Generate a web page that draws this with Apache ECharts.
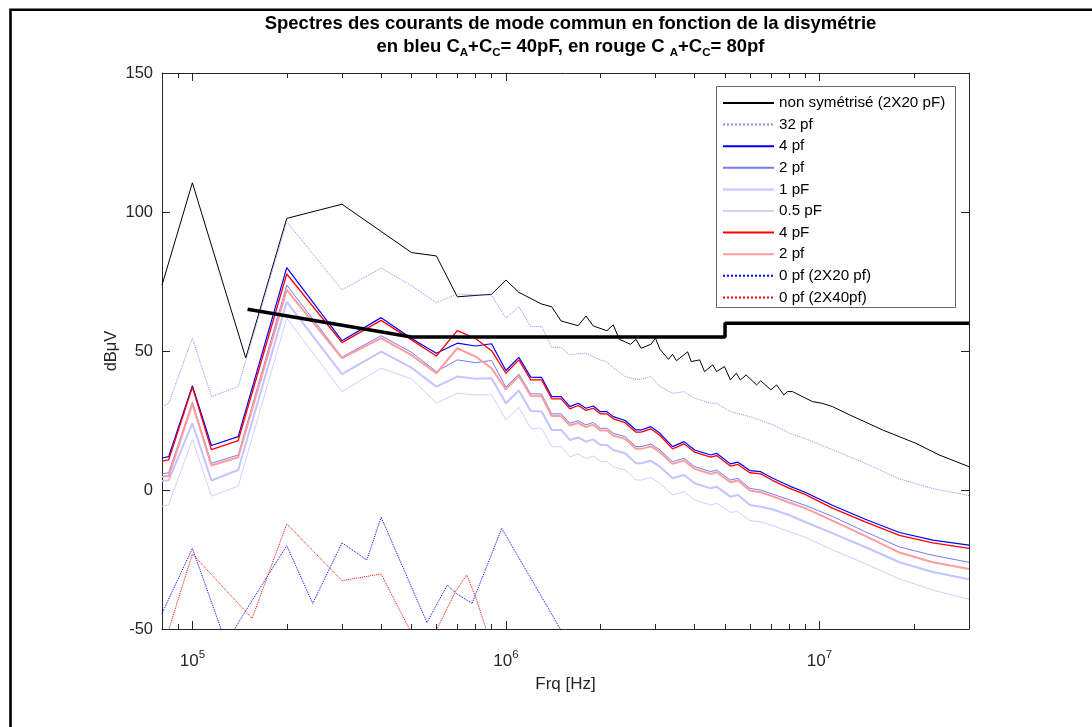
<!DOCTYPE html>
<html>
<head>
<meta charset="utf-8">
<script src="https://cdn.jsdelivr.net/npm/echarts@6/dist/echarts.min.js"></script>
<style>
  html, body { margin: 0; padding: 0; background: #fff; }
  #chart { width: 1092px; height: 727px; }
</style>
</head>
<body>
<div id="chart"></div>
<script>
// frequencies (Hz) shared by the coloured curves
var fC = [8e4, 8.4e4, 1e5, 1.15e5, 1.4e5, 2e5, 3e5, 4e5, 5e5, 6e5,
    7e5, 8e5, 9e5, 1e6, 1.1e6, 1.2e6, 1.3e6, 1.4e6, 1.5e6, 1.6e6,
    1.7e6, 1.8e6, 1.9e6, 2e6, 2.1e6, 2.2e6, 2.4e6, 2.6e6, 2.7e6, 2.9e6,
    3.1e6, 3.4e6, 3.7e6, 4e6, 4.5e6, 4.7e6, 5.2e6, 5.5e6, 6e6, 6.5e6,
    7.1e6, 8e6, 9e6, 1.1e7, 1.4e7, 1.8e7, 2.3e7, 3e7];

var v32pf = [30, 31.2, 54.6, 33.6, 37.2, 96.5, 72, 79.8, 73.5, 67.4,
    70.5, 70.2, 70.1, 61.8, 65.9, 58.8, 58.8, 51.3, 51.3, 48.6,
    49, 49.2, 48, 46.8, 46, 44, 40.8, 39.8, 39.8, 40.8,
    37.2, 34.8, 35.4, 33, 31.2, 31.2, 28.2, 27.5, 26.4, 25,
    23.5, 20.5, 18.5, 14.5, 9.6, 4, 0.5, -2];
var vBleu4 = [11.5, 12, 37.5, 16, 19.2, 80, 53.7, 62, 54.5, 49.2,
    52.8, 51.8, 52.6, 43, 47.7, 40.6, 40.5, 33.6, 33.6, 30,
    31.2, 29.4, 30.2, 28.2, 28.2, 26.4, 25, 21.6, 21.6, 22.8,
    20.4, 15.6, 17.4, 14.4, 12.6, 13.2, 9.4, 10, 7, 6.6,
    4.2, 1.5, -0.8, -5.5, -10.5, -15.3, -18, -19.8];
var vBleu2 = [5.8, 6.2, 31.5, 9.6, 12.6, 73.7, 47.8, 55.5, 49.5, 42.6,
    46.8, 45.8, 46.6, 37, 41.7, 34.6, 34.5, 27.4, 27.4, 24,
    24.9, 23.4, 24.3, 22.2, 22.2, 20.4, 19.2, 15.6, 15.6, 16.5,
    14.4, 10.2, 11.4, 8.4, 6.6, 7.2, 3.6, 4.2, 0.6, 0,
    -1.5, -3.5, -5.5, -9.5, -15, -20.5, -23.5, -26];
var vBleu1 = [3.2, 3.5, 24, 3.4, 7.2, 67.7, 41.7, 49.8, 44, 37.2,
    40.8, 40, 40.2, 31.2, 35.8, 28.4, 28.2, 21.6, 21.6, 18,
    18.9, 17.4, 18.2, 16.2, 16.2, 14.4, 13.2, 9.6, 9.6, 10.5,
    8.4, 4.2, 5.4, 2.4, 0.6, 1.2, -2.4, -1.8, -5.4, -6,
    -7, -9, -11.5, -15.5, -20.5, -26, -29.5, -32.1];
var vBleu05 = [-5.8, -5.4, 18.2, -2.2, 1.4, 61.8, 35.4, 43.8, 40, 31.2,
    34.8, 34.2, 34.3, 25.2, 29.7, 22.2, 22.2, 15.6, 15.6, 12,
    12.9, 11.4, 12.2, 10.2, 10.2, 8.4, 7.2, 3.6, 3.6, 4.5,
    2.4, -1.8, -0.6, -3.6, -5.4, -4.8, -8, -7.8, -11, -11.5,
    -12.8, -15, -17, -21.5, -26.5, -32, -36, -39.3];
var vRouge4 = [10.4, 10.8, 37, 14.5, 17.8, 77.7, 53, 61, 54, 48.2,
    57.3, 54.5, 50.1, 42, 46.8, 39.6, 39.6, 32.8, 32.8, 29.2,
    30.4, 28.6, 29.4, 27.4, 27.4, 25.6, 24.2, 20.8, 20.8, 22,
    19.6, 14.8, 16.6, 13.6, 11.8, 12.4, 8.6, 9.2, 6.2, 5.8,
    3.4, 0.7, -1.6, -6.5, -11.5, -16.3, -19, -21];
var vRouge2 = [4.8, 5, 31, 8.8, 11.8, 72, 47.4, 54.6, 48.5, 42,
    51, 48, 43.8, 36.2, 41, 33.8, 33.7, 26.6, 26.6, 23.2,
    24.1, 22.6, 23.5, 21.4, 21.4, 19.6, 18.4, 14.8, 14.8, 15.7,
    13.6, 9.4, 10.6, 7.6, 5.8, 6.4, 2.8, 3.4, -0.2, -0.8,
    -2.3, -4.5, -6.5, -11, -16.5, -22.5, -26, -28.4];

// non symétrisé
var fNonSym = [8e4, 1e5, 1.48e5, 2e5, 3e5, 4e5, 5e5, 6e5, 7e5, 9e5,
    1e6, 1.1e6, 1.3e6, 1.4e6, 1.5e6, 1.7e6, 1.8e6, 1.9e6, 2.1e6, 2.2e6,
    2.3e6, 2.5e6, 2.6e6, 2.7e6, 2.9e6, 3e6, 3.1e6, 3.3e6, 3.4e6, 3.5e6,
    3.8e6, 3.9e6, 4.15e6, 4.3e6, 4.57e6, 4.7e6, 4.98e6, 5.2e6, 5.43e6, 5.6e6,
    5.84e6, 6.3e6, 6.5e6, 7e6, 7.3e6, 7.7e6, 7.9e6, 8.2e6, 9.5e6, 1.02e7,
    1.1e7, 1.25e7, 1.59e7, 2.03e7, 2.41e7, 3e7];
var vNonSym = [73.7, 110.5, 47.5, 97.7, 102.8, 93, 85.4, 84.2, 69.5, 70.4,
    75.5, 71.1, 66.9, 65.9, 60.8, 59.1, 62.6, 59, 57.3, 59.4,
    54.2, 52.4, 54.2, 51, 52.4, 54.6, 50.6, 47, 48.8, 46.5,
    49.7, 46.2, 46.8, 42.6, 45, 42.6, 44.4, 39.6, 42, 39.6,
    41.4, 37.8, 39.3, 36, 37.8, 34.2, 35.4, 35.4, 31.8, 31.2,
    30, 27, 21.6, 16.8, 12.6, 8.4];

// 0 pf
var f0pf20 = [8e4, 1e5, 1.28e5, 1.53e5, 2e5, 2.42e5, 3e5, 3.6e5, 4e5, 5.6e5,
    6.5e5, 7e5, 7.8e5, 9.7e5, 1.5e6, 1.6e6];
var v0pf20 = [-44.4, -21, -55, -40.8, -20, -40.8, -19, -25.2, -9.8, -47.7,
    -34.2, -37.5, -40.8, -13.8, -50.5, -55];
var f0pf40 = [8e4, 1e5, 1.55e5, 2e5, 3e5, 4e5, 5e5, 5.5e5, 6e5, 6.9e5,
    7.5e5, 8e5, 9e5];
var v0pf40 = [-58, -23, -46.2, -12.2, -32.6, -30.2, -51.5, -56, -50.5, -36.6,
    -30.6, -38.4, -56];

// gabarit (trait noir épais)
var fLimite = [1.5e5, 5e5, 5e6, 5e6, 3e7];
var vLimite = [65, 55, 55, 60, 60];

var xMajor = [1e5, 1e6, 1e7];
var xMinor = [9e4, 2e5, 3e5, 4e5, 5e5, 6e5, 7e5, 8e5, 9e5,
    2e6, 3e6, 4e6, 5e6, 6e6, 7e6, 8e6, 9e6, 2e7, 3e7];

function pairs(f, v) {
    var out = [];
    for (var i = 0; i < f.length; i++) {
        out.push([f[i], v[i]]);
    }
    return out;
}

var FONT = 'Liberation Sans, Arial, Helvetica, sans-serif';
var AX = '#262626';

function xAxisDef(pos, ticks, len, withLine, withLabel) {
    return {
        type: 'log',
        logBase: 10,
        min: 8e4,
        max: 3e7,
        position: pos,
        gridIndex: 0,
        axisLine: { show: withLine, onZero: false, lineStyle: { color: AX, width: 1 } },
        axisTick: { show: true, inside: true, length: len, customValues: ticks,
            lineStyle: { color: AX, width: 1 } },
        axisLabel: withLabel ? {
            show: true,
            customValues: xMajor,
            margin: 20,
            fontFamily: FONT,
            color: AX,
            formatter: function (val) {
                return '{b|10}{p|' + Math.round(Math.log10(val)) + '}';
            },
            rich: {
                b: { fontSize: 17, fontFamily: FONT, color: AX },
                p: { fontSize: 11.5, fontFamily: FONT, color: AX, padding: [0, 0, 13, 0] }
            }
        } : { show: false },
        splitLine: { show: false },
        minorTick: { show: false }
    };
}

var xAxes = [
    xAxisDef('bottom', xMajor, 8, true, true),
    xAxisDef('bottom', xMinor, 5, false, false),
    xAxisDef('top', xMajor, 8, true, false),
    xAxisDef('top', xMinor, 5, false, false)
];
xAxes[0].name = 'Frq [Hz]';
xAxes[0].nameLocation = 'middle';
xAxes[0].nameGap = 47;
xAxes[0].nameTextStyle = { fontSize: 17, fontFamily: FONT, color: AX };

var myChart = echarts.init(document.getElementById('chart'), null, { renderer: 'canvas' });

myChart.setOption({
    animation: false,
    backgroundColor: '#fff',
    title: {
        left: 565.5,
        top: 7,
        textAlign: 'center',
        text: '{b|Spectres des courants de mode commun en fonction de la disymétrie}\n' +
            '{b|en bleu C}{s|A}{b|+C}{s|C}{b|= 40pF, en rouge C }{s|A}{b|+C}{s|C}{b|= 80pf}',
        textStyle: {
            rich: {
                b: { fontSize: 18.5, fontWeight: 'bold', fontFamily: FONT, color: '#000', lineHeight: 23 },
                s: { fontSize: 11.5, fontWeight: 'bold', fontFamily: FONT, color: '#000', padding: [12, 0, 0, 0] }
            }
        }
    },
    grid: { left: 162, top: 73, width: 807, height: 556, containLabel: false },
    legend: {
        orient: 'vertical',
        left: 722,
        top: 95.5,
        padding: 0,
        itemWidth: 51,
        itemHeight: 14,
        itemGap: 6.6,
        selectedMode: false,
        z: 5,
        itemStyle: { opacity: 0 },
        textStyle: { fontSize: 15.2, fontFamily: FONT, color: '#000', lineHeight: 14 },
        data: ['non symétrisé (2X20 pF)', '32 pf', '4 pf', '2 pf', '1 pF', '0.5 pF',
            '4 pF', '2 pf ', '0 pf (2X20 pf)', '0 pf (2X40pf)']
    },
    xAxis: xAxes,
    yAxis: [{
        type: 'value',
        min: -50,
        max: 150,
        interval: 50,
        position: 'left',
        name: 'dBμV',
        nameLocation: 'middle',
        nameGap: 42,
        nameMoveOverlap: false,
        nameRotate: 90,
        nameTextStyle: { fontSize: 16.5, fontFamily: FONT, color: AX },
        axisLine: { show: true, onZero: false, lineStyle: { color: AX, width: 1 } },
        axisTick: { show: true, inside: true, length: 8, lineStyle: { color: AX } },
        axisLabel: { fontSize: 16.5, fontFamily: FONT, color: AX, margin: 9 },
        splitLine: { show: false }
    }, {
        type: 'value',
        min: -50,
        max: 150,
        interval: 50,
        position: 'right',
        axisLine: { show: true, onZero: false, lineStyle: { color: AX, width: 1 } },
        axisTick: { show: true, inside: true, length: 8, lineStyle: { color: AX } },
        axisLabel: { show: false },
        splitLine: { show: false }
    }],
    graphic: [{
        type: 'polyline',
        shape: { points: [[10.5, 727], [10.5, 9.7], [1092, 9.7]] },
        style: { stroke: '#000', lineWidth: 2.6, fill: null },
        silent: true
    }, {
        type: 'rect',
        z: 3,
        shape: { x: 716.5, y: 86.5, width: 239, height: 221 },
        style: { fill: '#fff', stroke: '#666', lineWidth: 1 },
        silent: true
    }],
    series: [{
        name: 'non symétrisé (2X20 pF)',
        type: 'line',
        symbol: 'none',
        data: pairs(fNonSym, vNonSym),
        lineStyle: { color: '#000', width: 1 },
        itemStyle: { color: '#000' }
    }, {
        name: '32 pf',
        type: 'line',
        symbol: 'none',
        data: pairs(fC, v32pf),
        lineStyle: { color: '#8c8cff', width: 1, type: 'dotted' },
        itemStyle: { color: '#8c8cff' }
    }, {
        name: '4 pf',
        type: 'line',
        symbol: 'none',
        data: pairs(fC, vBleu4),
        lineStyle: { color: '#0000ff', width: 1.2 },
        itemStyle: { color: '#0000ff' }
    }, {
        name: '2 pf',
        type: 'line',
        symbol: 'none',
        data: pairs(fC, vBleu2),
        lineStyle: { color: '#7878ff', width: 1 },
        itemStyle: { color: '#7878ff' }
    }, {
        name: '1 pF',
        type: 'line',
        symbol: 'none',
        data: pairs(fC, vBleu1),
        lineStyle: { color: '#c4c4ff', width: 2 },
        itemStyle: { color: '#c4c4ff' }
    }, {
        name: '0.5 pF',
        type: 'line',
        symbol: 'none',
        data: pairs(fC, vBleu05),
        lineStyle: { color: '#d0d0ff', width: 1 },
        itemStyle: { color: '#d0d0ff' }
    }, {
        name: '4 pF',
        type: 'line',
        symbol: 'none',
        data: pairs(fC, vRouge4),
        lineStyle: { color: '#ff0000', width: 1.3 },
        itemStyle: { color: '#ff0000' }
    }, {
        name: '2 pf ',
        type: 'line',
        symbol: 'none',
        data: pairs(fC, vRouge2),
        lineStyle: { color: '#ff9c9c', width: 2 },
        itemStyle: { color: '#ff9c9c' }
    }, {
        name: '0 pf (2X20 pf)',
        type: 'line',
        symbol: 'none',
        data: pairs(f0pf20, v0pf20),
        lineStyle: { color: '#0000ff', width: 1, type: 'dotted' },
        itemStyle: { color: '#0000ff' }
    }, {
        name: '0 pf (2X40pf)',
        type: 'line',
        symbol: 'none',
        data: pairs(f0pf40, v0pf40),
        lineStyle: { color: '#ff0000', width: 1, type: 'dotted' },
        itemStyle: { color: '#ff0000' }
    }, {
        name: 'limite',
        type: 'line',
        symbol: 'none',
        data: pairs(fLimite, vLimite),
        lineStyle: { color: '#000', width: 3.5 },
        itemStyle: { color: '#000' }
    }]
});
</script>
</body>
</html>
